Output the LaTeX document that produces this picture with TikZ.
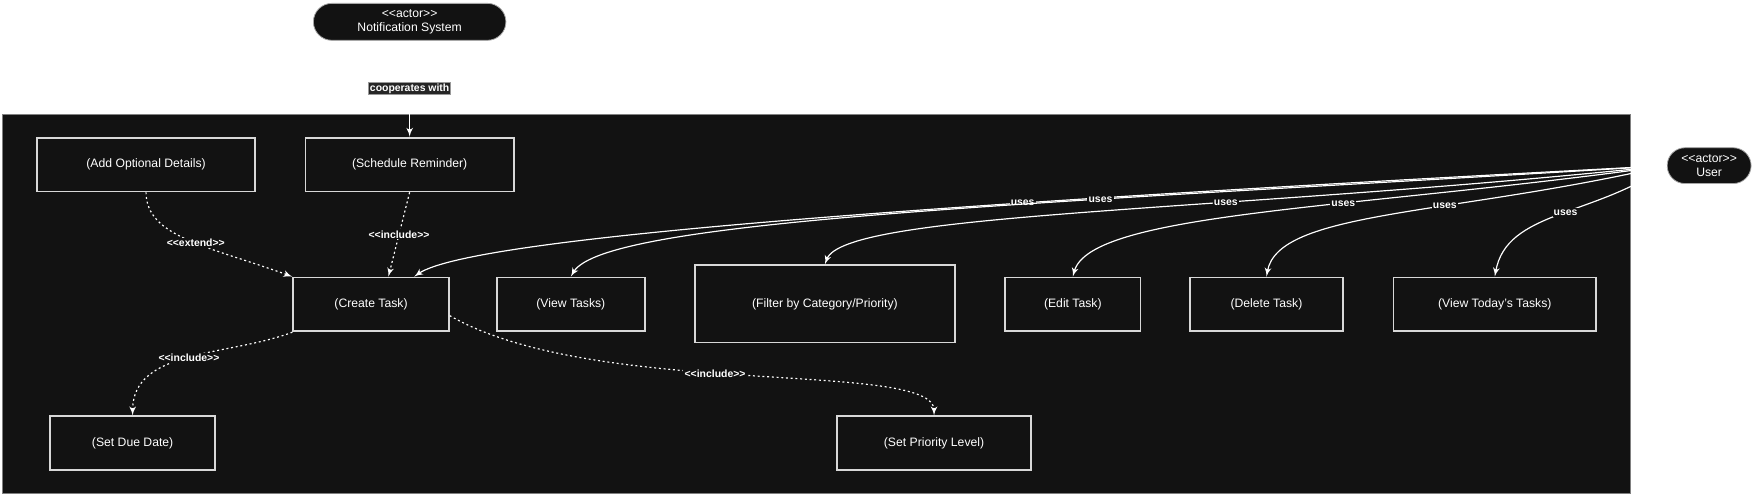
\documentclass[tikz,border=0pt]{standalone}
\usepackage{fontspec}
\setmainfont{Liberation Sans}
\usetikzlibrary{arrows}
\definecolor{bg}{HTML}{121212}
\definecolor{linegray}{HTML}{D8D8D8}

\begin{document}
\begin{tikzpicture}[->,>=latex',shorten >=0pt,
    case node/.style={rectangle,draw=linegray,line width=0.9pt,fill=bg,text=white,minimum height=0.96cm,font=\fontsize{6.2}{7.5}\selectfont},
    actor node/.style={rectangle,rounded corners=0.33cm,draw=gray!70,fill=bg,text=white,align=center,minimum height=0.66cm,inner sep=1pt,font=\fontsize{6.2}{7.5}\selectfont},
    link label/.style={fill=bg,text=white,inner sep=0.6pt,font=\fontsize{5.3}{6}\selectfont\bfseries}]

  \useasboundingbox (0,0) rectangle (31.36,-8.86);
  % system boundary
  \draw[-,draw=gray,fill=bg] (0.04,-2.04) rectangle (29.14,-8.82);

  \node[actor node,minimum width=3.44cm] (notif) at (7.32,-0.39) {<{}<actor>{}>\\Notification System};
  \node[actor node,minimum width=1.5cm,minimum height=0.64cm,rounded corners=0.32cm] (user) at (30.54,-2.96) {<{}<actor>{}>\\User};

  \node[case node,minimum width=3.9cm] (addopt) at (2.61,-2.94) {(Add Optional Details)};
  \node[case node,minimum width=3.72cm] (sched) at (7.32,-2.94) {(Schedule Reminder)};
  \node[case node,minimum width=2.78cm] (ct) at (6.63,-5.44) {(Create Task)};
  \node[case node,minimum width=2.64cm] (vt) at (10.2,-5.44) {(View Tasks)};
  \node[case node,minimum width=4.64cm,minimum height=1.38cm] (filt) at (14.74,-5.43) {(Filter by Category/Priority)};
  \node[case node,minimum width=2.42cm] (edit) at (19.17,-5.44) {(Edit Task)};
  \node[case node,minimum width=2.74cm] (del) at (22.63,-5.44) {(Delete Task)};
  \node[case node,minimum width=3.62cm] (today) at (26.71,-5.44) {(View Today's Tasks)};
  \node[case node,minimum width=2.94cm] (due) at (2.37,-7.92) {(Set Due Date)};
  \node[case node,minimum width=3.46cm] (prio) at (16.69,-7.92) {(Set Priority Level)};

\path[color=white,line width=0.6pt,every node/.style={link label}]
    (notif) edge node[draw=gray!80,fill=black!85] {cooperates with} (sched)
    (user.west) edge[out=183,in=35,out distance=12cm,in distance=1.3cm] node[pos=0.355] {uses} ([xshift=0.77cm]ct.north)
                edge[out=183.5,in=60,out distance=11cm,in distance=1.2cm] node[pos=0.345] {uses} (vt.north)
                edge[out=186,in=70,out distance=8cm,in distance=1cm] node[pos=0.36] {uses} (filt.north)
                edge[out=188,in=75,out distance=5.6cm,in distance=1.2cm] node[pos=0.38] {uses} (edit.north)
                edge[out=193,in=80,out distance=4cm,in distance=1.2cm] node[pos=0.38] {uses} (del.north)
                edge[out=215,in=80,out distance=1.6cm,in distance=1.2cm] node[pos=0.46] {uses} (today.north)
;

\path[color=white,line width=0.6pt,dash pattern=on 1pt off 1.4pt,every node/.style={link label}]
    (addopt.south) edge[out=270,in=160,out distance=0.8cm,in distance=1.6cm] node[pos=0.55] {<{}<extend>{}>} (ct.north west)
    (sched.south) edge node {<{}<include>{}>} ([xshift=0.31cm]ct.north)
    (ct.south west) edge[out=201,in=90,out distance=1.2cm,in distance=1.2cm] node {<{}<include>{}>} (due.north)
    ([yshift=-0.2cm]ct.east) edge[out=-30,in=90,out distance=3cm,in distance=1cm] node[pos=0.45] {<{}<include>{}>} (prio.north)
;
\end{tikzpicture}
\end{document}
